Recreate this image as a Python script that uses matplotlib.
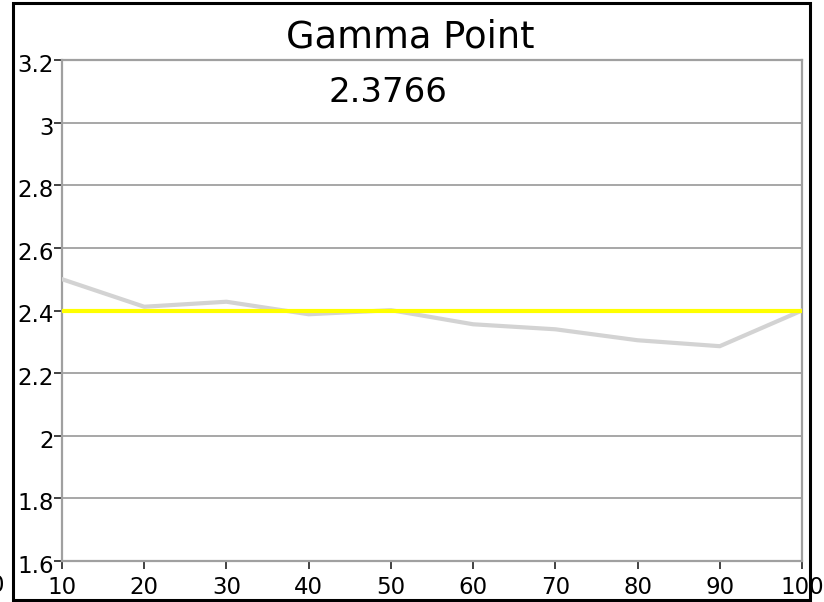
import matplotlib
matplotlib.use("Agg")
import matplotlib.pyplot as plt
from matplotlib.patches import Rectangle
from matplotlib.ticker import FuncFormatter
from matplotlib.transforms import ScaledTranslation

# Data
x_vals = [10, 20, 30, 40, 50, 60, 70, 80, 90, 100]
gamma_vals = [2.50, 2.412, 2.428, 2.388, 2.401, 2.356, 2.340, 2.305, 2.286, 2.40]
target_gamma = 2.4
title_text = "Gamma Point"
avg_text = "2.3766"
y_ticks = [1.6, 1.8, 2.0, 2.2, 2.4, 2.6, 2.8, 3.0, 3.2]
x_ticks = [10, 20, 30, 40, 50, 60, 70, 80, 90, 100]

W, H = 824, 602
fig = plt.figure(figsize=(W / 100, H / 100), dpi=100)
plt.rcParams['font.family'] = ['DejaVu Sans']

ax = fig.add_axes([62 / W, (H - 561) / H, 740 / W, 501 / H])
ax.set_xlim(10, 100)
ax.set_ylim(1.6, 3.2)
ax.set_yticks(y_ticks)
ax.set_xticks(x_ticks)
ax.yaxis.set_major_formatter(FuncFormatter(lambda v, p: f"{v:g}"))

grid_c = '#a0a0a0'
ax.grid(axis='y', color=grid_c, linewidth=1.3)
ax.set_axisbelow(True)
for s in ax.spines.values():
    s.set_color(grid_c)
    s.set_linewidth(1.6)

ax.tick_params(axis='both', direction='out', length=6, width=1.3, color='#333333',
               labelsize=16.5, labelcolor='black')
ax.tick_params(axis='y', pad=0)
ax.tick_params(axis='x', pad=5)

offset = ScaledTranslation(0, -3 / 100, fig.dpi_scale_trans)
for lab in ax.get_yticklabels():
    lab.set_transform(lab.get_transform() + offset)

ax.plot(x_vals, gamma_vals, color='#d3d3d3', linewidth=3, solid_joinstyle='miter', zorder=3)
ax.plot([x_vals[0], x_vals[-1]], [target_gamma, target_gamma], color='#ffff00', linewidth=3, zorder=4)

fig.text(410 / W, 1 - 37 / H, title_text, ha='center', va='center', fontsize=26.5)
fig.text(388 / W, 1 - 92 / H, avg_text, ha='center', va='center', fontsize=24.5)
fig.text(4 / W, 1 - 586 / H, "0", ha='right', va='center', fontsize=16.5)

fig.patches.append(Rectangle((13 / W, 2 / H), 797 / W, 597 / H, transform=fig.transFigure,
                             fill=False, edgecolor='black', linewidth=2.2, zorder=10))

fig.savefig("out.png", dpi=100)
